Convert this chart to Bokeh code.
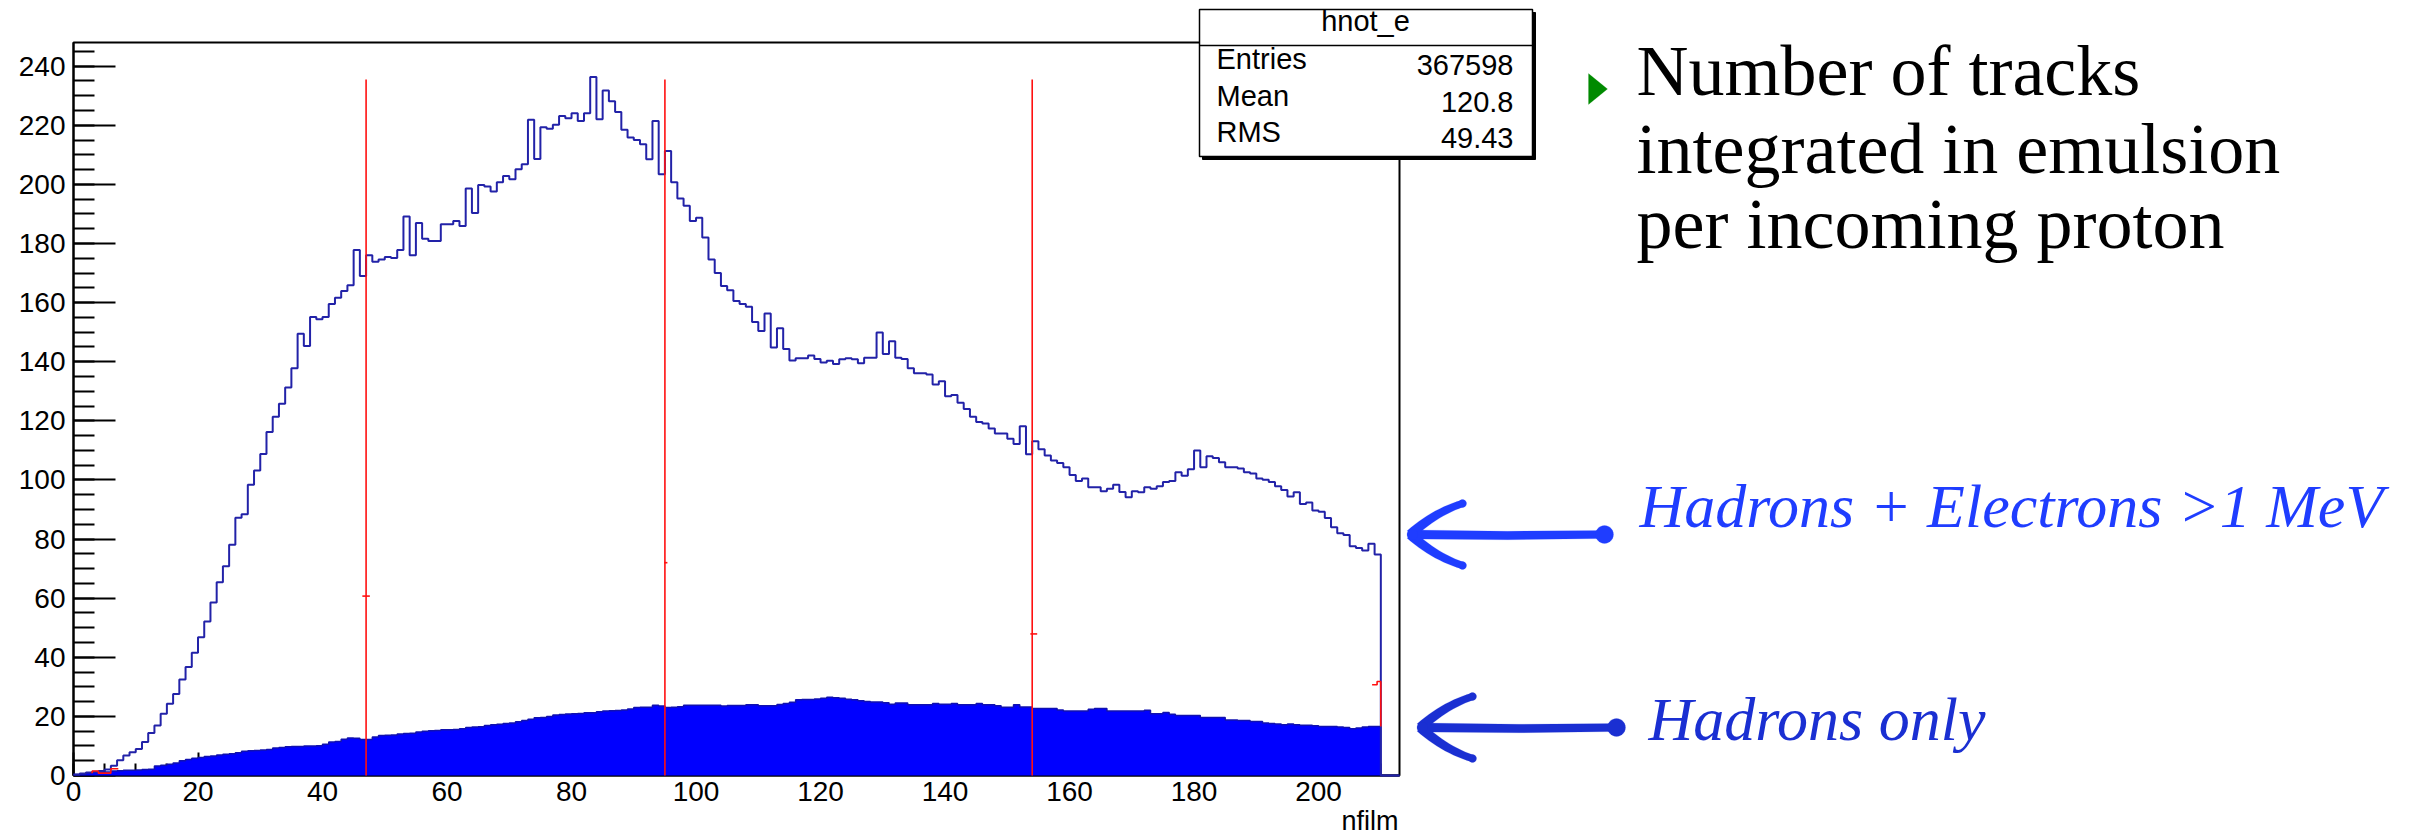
import numpy as np
from bokeh.plotting import figure
from bokeh.models import Label, BoxAnnotation, PolyAnnotation, SingleIntervalTicker, Range1d, LinearAxis
from bokeh.embed import file_html
from bokeh.resources import INLINE

# ---------------- data ----------------
bin_edges = list(range(0, 214))          # nfilm bins of width 1, 0..213

all_tracks = [
    0.3, 0.7, 1.0, 1.3, 1.5, 2.0, 3.3, 5.2, 6.8, 7.9,
    9.0, 11.3, 14.4, 16.9, 20.9, 24.3, 27.6, 32.5, 36.7, 41.5,
    46.8, 52.1, 58.5, 65.4, 70.8, 78.1, 87.2, 88.4, 98.4, 103.2,
    108.8, 116.2, 121.4, 125.8, 131.3, 137.8, 149.5, 145.3, 155.1, 154.4,
    155.1, 159.5, 161.6, 163.9, 165.9, 177.8, 169.0, 176.0, 173.8, 174.6,
    175.4, 175.1, 177.8, 189.1, 176.0, 186.9, 181.6, 180.8, 180.8, 186.5,
    186.5, 187.6, 185.9, 198.6, 190.3, 199.8, 199.3, 197.6, 200.7, 202.8,
    201.7, 205.1, 206.8, 221.9, 208.6, 219.3, 218.8, 220.2, 223.1, 222.4,
    224.1, 221.4, 224.1, 236.3, 222.0, 231.8, 228.1, 224.5, 218.5, 215.9,
    215.0, 213.6, 208.5, 221.4, 203.4, 211.3, 200.7, 195.2, 192.8, 187.6,
    188.7, 182.0, 174.6, 170.0, 165.6, 164.2, 160.5, 159.5, 158.6, 153.4,
    150.4, 156.3, 144.8, 151.3, 144.3, 140.4, 141.2, 141.2, 142.1, 140.9,
    139.7, 140.3, 139.2, 140.8, 141.2, 140.8, 139.5, 141.3, 141.3, 149.9,
    142.6, 146.9, 141.3, 140.9, 137.8, 136.1, 136.1, 135.7, 132.3, 133.4,
    128.3, 128.7, 126.1, 124.0, 121.4, 119.6, 119.1, 117.4, 115.7, 115.7,
    113.9, 112.2, 118.2, 108.7, 113.1, 110.4, 108.3, 106.6, 105.7, 104.3,
    101.7, 99.6, 100.5, 97.5, 97.5, 96.2, 97.0, 98.4, 95.9, 94.1,
    96.2, 95.8, 97.5, 97.0, 97.9, 99.3, 99.6, 102.6, 101.4, 103.6,
    110.0, 104.3, 108.0, 107.4, 106.0, 104.3, 104.3, 103.9, 102.6, 102.2,
    100.5, 100.1, 99.3, 97.9, 96.6, 94.4, 95.8, 91.9, 92.4, 89.7,
    89.2, 87.1, 84.0, 82.0, 81.4, 77.6, 77.0, 76.1, 78.4, 74.8,
    0.0, 0.0, 0.0,
]

hadrons_only = [
    0.3, 0.6, 0.9, 1.1, 1.1, 1.2, 1.5, 1.6, 1.8, 1.8,
    1.9, 2.0, 2.1, 3.2, 3.5, 3.8, 4.2, 5.0, 5.4, 5.8,
    6.1, 6.4, 6.6, 6.9, 7.2, 7.4, 7.7, 8.2, 8.4, 8.5,
    8.6, 8.8, 9.3, 9.5, 9.7, 9.8, 9.8, 10.0, 10.0, 10.1,
    10.6, 11.3, 11.5, 12.3, 12.7, 12.6, 12.2, 12.2, 13.0, 13.5,
    13.6, 13.7, 14.0, 14.2, 14.3, 14.7, 15.0, 15.1, 15.2, 15.5,
    15.5, 15.6, 15.8, 16.2, 16.4, 16.5, 16.9, 17.2, 17.3, 17.6,
    17.8, 18.2, 18.6, 19.0, 19.5, 19.6, 20.0, 20.5, 20.6, 20.8,
    20.9, 21.0, 21.2, 21.2, 21.6, 21.8, 21.9, 22.0, 22.2, 22.5,
    23.0, 23.1, 23.1, 23.8, 23.5, 23.0, 23.1, 23.3, 23.8, 23.8,
    23.8, 23.8, 23.8, 23.8, 23.5, 23.7, 23.7, 23.7, 23.9, 23.9,
    23.6, 23.6, 23.6, 24.0, 24.4, 24.8, 25.6, 25.7, 25.7, 25.9,
    26.1, 26.5, 26.3, 26.1, 25.8, 25.6, 25.3, 25.0, 24.9, 24.9,
    24.6, 24.1, 24.5, 24.5, 23.9, 23.9, 23.9, 23.9, 24.4, 24.1,
    24.1, 24.4, 23.9, 23.9, 23.9, 24.4, 23.9, 23.9, 23.6, 23.1,
    23.1, 23.9, 23.2, 23.2, 22.7, 22.7, 22.7, 22.7, 22.2, 21.8,
    21.8, 21.8, 21.8, 22.4, 22.7, 22.7, 21.8, 21.8, 21.8, 21.8,
    21.8, 21.8, 22.1, 20.9, 20.9, 21.3, 20.7, 20.3, 20.3, 20.3,
    20.3, 19.6, 19.6, 19.6, 19.6, 18.8, 18.8, 18.6, 18.6, 18.3,
    18.3, 17.8, 17.6, 17.4, 17.2, 17.4, 17.2, 17.0, 17.0, 16.8,
    16.6, 16.6, 16.6, 16.4, 16.2, 15.8, 16.1, 16.4, 16.6, 16.6,
    0.0, 0.0, 0.0,
]

# red markers
marker_x = [47, 95, 154]
marker_top = [235.5, 235.5, 235.5]
marker_tick_x0 = [46.4, 94.9, 153.7]
marker_tick_x1 = [47.6, 95.4, 154.8]
marker_tick_y = [60.7, 72.0, 47.9]
red_start_x = [3.0, 3.0, 4.0, 4.0, 6.0, 6.0, 7.2]
red_start_y = [0.8, 1.5, 1.5, 0.8, 0.8, 2.3, 2.3]
red_end_x = [208.6, 209.4, 209.4, 210.0, 210.0]
red_end_y = [30.7, 30.7, 31.8, 31.8, 16.6]

stats_title = "hnot_e"
stats_names = ["Entries", "Mean", "RMS"]
stats_values = ["367598", "120.8", "49.43"]

x_min, x_max = 0, 213
y_min, y_max = 0, 248

# ---------------- layout geometry (canvas pixels) ----------------
W, H = 2413, 839
FL, FR, FT, FB = 73, 1399, 42, 775     # where the histogram box sits on the page


def px2x(X):
    return (X - FL) / (FR - FL) * (x_max - x_min) + x_min


def px2y(Y):
    return (FB - Y) / (FB - FT) * (y_max - y_min) + y_min


# the plot frame spans the whole page; the histogram box is drawn inside it
p = figure(frame_width=W, frame_height=H,
           x_range=Range1d(px2x(0), px2x(W)), y_range=Range1d(px2y(H), px2y(0)),
           x_axis_type=None, y_axis_type=None,
           output_backend="svg", toolbar_location=None, min_border=0)
p.background_fill_color = "white"
p.border_fill_color = "white"
p.outline_line_color = None
p.grid.visible = False

xaxis = LinearAxis(fixed_location=0, bounds=(x_min, x_max))
yaxis = LinearAxis(fixed_location=0, bounds=(y_min, y_max))
p.add_layout(xaxis, "below")
p.add_layout(yaxis, "left")

for ax in (xaxis, yaxis):
    ax.ticker = SingleIntervalTicker(interval=20, num_minor_ticks=4)
    ax.axis_line_width = 2
    ax.axis_line_color = "black"
    ax.major_tick_line_width = 2
    ax.minor_tick_line_width = 2
    ax.major_tick_line_color = "black"
    ax.minor_tick_line_color = "black"
    ax.major_tick_out = 0
    ax.minor_tick_out = 0
    ax.major_label_text_font = "Liberation Sans"
    ax.major_label_text_font_size = "28px"
    ax.major_label_text_color = "black"
    ax.level = "underlay"

xaxis.major_tick_in = 23
xaxis.minor_tick_in = 12
xaxis.major_label_standoff = 6
yaxis.major_tick_in = 42
yaxis.minor_tick_in = 21
yaxis.major_label_standoff = 8

edges = np.array(bin_edges, dtype=float)
had = np.array(hadrons_only + [hadrons_only[-1]])
allt = np.array(all_tracks + [all_tracks[-1]])

# histogram frame (ROOT pad frame)
p.quad(left=[x_min], right=[x_max], bottom=[y_min], top=[y_max],
       fill_color=None, line_color="black", line_width=2)

p.varea_step(x=edges, y1=np.zeros_like(had), y2=had, step_mode="after", fill_color="#0000ff")
p.step(x=edges, y=had, mode="after", line_color="#1010b0", line_width=1.5)
p.step(x=edges, y=allt, mode="after", line_color="#2222a8", line_width=2)

p.segment(x0=marker_x, y0=[0] * 3, x1=marker_x, y1=marker_top, line_color="#ff1010", line_width=1.6)
p.segment(x0=marker_tick_x0, y0=marker_tick_y, x1=marker_tick_x1, y1=marker_tick_y,
          line_color="#ff1010", line_width=1.6)
p.line(red_start_x, red_start_y, line_color="#ff1010", line_width=1.6)
p.line(red_end_x, red_end_y, line_color="#ff1010", line_width=1.6)


# ---------------- helpers for decorative shapes (page pixels) ----------------
def poly(xs_px, ys_px, color, lw=0.5):
    p.add_layout(PolyAnnotation(xs=[px2x(v) for v in xs_px], ys=[px2y(v) for v in ys_px],
                                fill_color=color, fill_alpha=1.0, line_color=color, line_width=lw))


def bezier(p0, p1, p2, n=14):
    t = np.linspace(0, 1, n)[:, None]
    a, b, c = np.array(p0), np.array(p1), np.array(p2)
    return (1 - t) ** 2 * a + 2 * (1 - t) * t * b + t ** 2 * c


def stroke(points, w0, w1):
    pts = np.asarray(points, dtype=float)
    d = np.gradient(pts, axis=0)
    d /= np.linalg.norm(d, axis=1)[:, None]
    nrm = np.stack([-d[:, 1], d[:, 0]], axis=1)
    w = np.linspace(w0, w1, len(pts))[:, None] / 2
    left = pts + nrm * w
    right = pts - nrm * w
    outline = np.vstack([left, right[::-1]])
    return outline[:, 0], outline[:, 1]


def disc(cx, cy, r, n=28):
    a = np.linspace(0, 2 * np.pi, n, endpoint=False)
    return cx + r * np.cos(a), cy + r * np.sin(a)


def hand_arrow(tip_x, tip_y, tail_x, head_len, head_half, color):
    xs, ys = stroke([(tip_x + 3, tip_y), ((tip_x + tail_x) / 2, tip_y + 1), (tail_x, tip_y)], 9, 8)
    poly(xs, ys, color)
    for s in (-1, 1):
        pts = bezier((tip_x, tip_y), (tip_x + head_len * 0.45, tip_y + s * head_half * 0.7),
                     (tip_x + head_len, tip_y + s * head_half))
        xs, ys = stroke(pts, 10, 7)
        poly(xs, ys, color)
        xs, ys = disc(tip_x + head_len, tip_y + s * head_half, 4)
        poly(xs, ys, color)
    xs, ys = disc(tail_x, tip_y, 9)
    poly(xs, ys, color)
    xs, ys = disc(tip_x + 2, tip_y, 5.5)
    poly(xs, ys, color)


# ---------------- stats box ----------------
p.add_layout(BoxAnnotation(left=px2x(1202), right=px2x(1535), top=px2y(12), bottom=px2y(159),
                           fill_color="black", fill_alpha=1.0, line_color="black", line_alpha=1.0))
p.add_layout(BoxAnnotation(left=px2x(1199), right=px2x(1532), top=px2y(9), bottom=px2y(156),
                           fill_color="white", fill_alpha=1.0, line_color="black", line_width=1.5,
                           line_alpha=1.0))
p.add_layout(BoxAnnotation(left=px2x(1199), right=px2x(1532), top=px2y(44.3), bottom=px2y(45.7),
                           fill_color="black", fill_alpha=1.0, line_color=None))
p.add_layout(Label(x=px2x(1365), y=px2y(36), text=stats_title, text_align="center",
                   text_font="Liberation Sans", text_font_size="29px", text_color="black"))
for i, (nm, vv) in enumerate(zip(stats_names, stats_values)):
    yb = [74, 111, 147][i]
    p.add_layout(Label(x=px2x(1216), y=px2y(yb), text=nm, text_align="left",
                       text_font="Liberation Sans", text_font_size="29px", text_color="black"))
    p.add_layout(Label(x=px2x(1513), y=px2y(yb), text=vv, text_align="right",
                       text_font="Liberation Sans", text_font_size="29px", text_color="black"))

# axis title
p.add_layout(Label(x=px2x(1398), y=px2y(835), text="nfilm", text_align="right",
                   text_font="Liberation Sans", text_font_size="27px", text_color="black"))

# ---------------- right-hand text ----------------
poly([1588, 1588, 1607], [73, 104, 88.5], "#008a00")
for txt, yb in zip(["Number of tracks", "integrated in emulsion", "per incoming proton"], [110, 188, 263]):
    p.add_layout(Label(x=px2x(1636), y=px2y(yb), text=txt, text_align="left",
                       text_font="Liberation Serif", text_font_size="72px", text_color="black"))

hand_arrow(1410, 534, 1604, 52, 31, "#1f3dff")
p.add_layout(Label(x=px2x(1639), y=px2y(539), text="Hadrons + Electrons >1 MeV", text_align="left",
                   text_font="Liberation Serif", text_font_style="italic", text_font_size="62px",
                   text_color="#1f3dff"))
hand_arrow(1420, 727, 1616, 52, 31, "#1a2fd2")
p.add_layout(Label(x=px2x(1648), y=px2y(752), text="Hadrons only", text_align="left",
                   text_font="Liberation Serif", text_font_style="italic", text_font_size="62px",
                   text_color="#1a2fd2"))

open("out.html", "w").write(file_html(p, INLINE))
